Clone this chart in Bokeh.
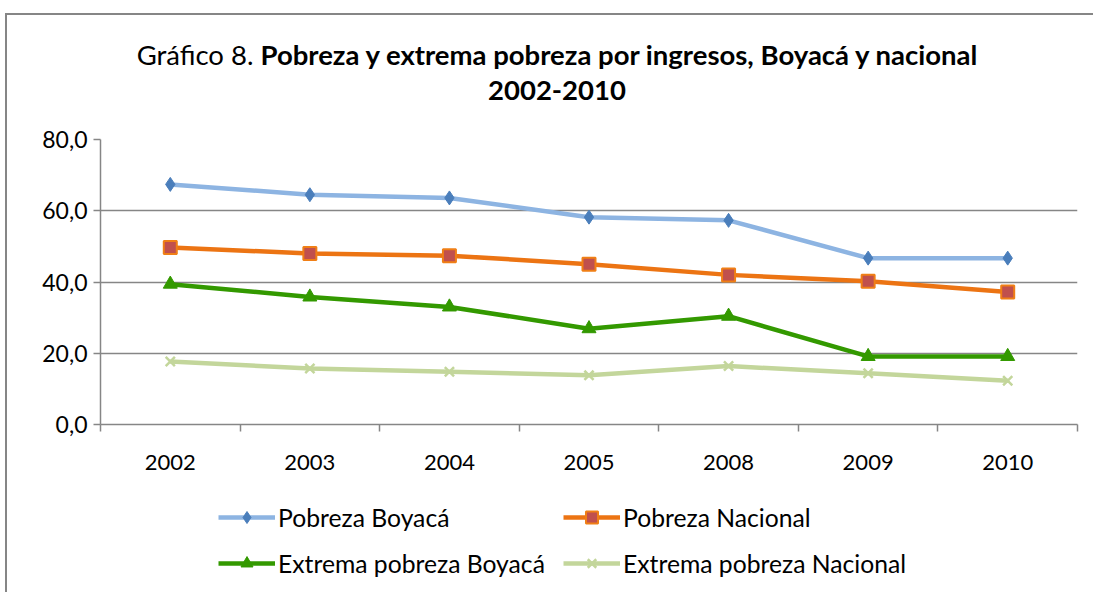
from bokeh.plotting import figure
from bokeh.layouts import column
from bokeh.models import FixedTicker, Legend, LegendItem, Range1d, Div
from bokeh.embed import file_html
from bokeh.resources import INLINE

years = ["2002", "2003", "2004", "2005", "2008", "2009", "2010"]
pobreza_boyaca = [67.4, 64.5, 63.6, 58.2, 57.3, 46.7, 46.7]
pobreza_nacional = [49.7, 48.0, 47.4, 45.0, 42.0, 40.2, 37.2]
extrema_boyaca = [39.4, 35.8, 33.0, 26.9, 30.4, 19.1, 19.1]
extrema_nacional = [17.7, 15.7, 14.8, 13.8, 16.4, 14.4, 12.3]
series_names = ["Pobreza Boyacá", "Pobreza Nacional",
                "Extrema pobreza Boyacá", "Extrema pobreza Nacional"]
y_ticks = [0, 20, 40, 60, 80]
y_tick_labels = ["0,0", "20,0", "40,0", "60,0", "80,0"]

FONT = "Lato"
GRAY = "#868686"
W = 1086

styles = [
    dict(line_color="#8DB4E2", marker="diamond", size=14,
         fill_color="#4A7EBB", mline_color="#4A7EBB", mline_width=1),
    dict(line_color="#EC7413", marker="square", size=13,
         fill_color="#C0504D", mline_color="#F07F16", mline_width=2),
    dict(line_color="#339900", marker="triangle", size=14,
         fill_color="#339900", mline_color="#339900", mline_width=1),
    dict(line_color="#C3D69B", marker="x", size=13,
         fill_color=None, mline_color="#C3D69B", mline_width=2.5),
]
series_values = [pobreza_boyaca, pobreza_nacional, extrema_boyaca, extrema_nacional]

centers = [i + 0.5 for i in range(len(years))]

# ---------------- main chart ----------------
p = figure(width=W, height=355, output_backend="svg", toolbar_location=None,
           x_range=Range1d(0, len(years)), y_range=Range1d(y_ticks[0], y_ticks[-1]),
           min_border_left=93, min_border_right=16, min_border_top=14,
           min_border_bottom=56, margin=0)
p.outline_line_color = None
p.background_fill_color = "white"
p.border_fill_color = "white"

p.xaxis.ticker = FixedTicker(ticks=centers, minor_ticks=list(range(len(years) + 1)))
p.xaxis.major_label_overrides = {c: y for c, y in zip(centers, years)}
p.xaxis.major_tick_out = 0
p.xaxis.major_tick_in = 0
p.xaxis.minor_tick_out = 7
p.xaxis.minor_tick_in = 0
p.xaxis.minor_tick_line_color = GRAY
p.xaxis.minor_tick_line_width = 1.5
p.xaxis.axis_line_color = GRAY
p.xaxis.axis_line_width = 1.5
p.xaxis.major_label_standoff = 23
p.xaxis.major_label_text_font = FONT
p.xaxis.major_label_text_font_size = "22px"
p.xaxis.major_label_text_color = "black"

p.yaxis.ticker = FixedTicker(ticks=y_ticks)
p.yaxis.major_label_overrides = {t: l for t, l in zip(y_ticks, y_tick_labels)}
p.yaxis.major_tick_out = 7
p.yaxis.major_tick_in = 0
p.yaxis.major_tick_line_color = GRAY
p.yaxis.major_tick_line_width = 1.5
p.yaxis.minor_tick_line_color = None
p.yaxis.axis_line_color = GRAY
p.yaxis.axis_line_width = 1.5
p.yaxis.major_label_standoff = 6
p.yaxis.major_label_text_font = FONT
p.yaxis.major_label_text_font_size = "23px"
p.yaxis.major_label_text_color = "black"

p.xgrid.visible = False
p.ygrid.grid_line_color = GRAY
p.ygrid.grid_line_width = 1.5

for vals, st in zip(series_values, styles):
    p.line(centers, vals, line_color=st["line_color"], line_width=4.5)
    p.scatter(centers, vals, marker=st["marker"], size=st["size"],
              fill_color=st["fill_color"], line_color=st["mline_color"],
              line_width=st["mline_width"])

# ---------------- legend strip ----------------
pl = figure(width=W, height=112, output_backend="svg", toolbar_location=None,
            x_range=Range1d(0, 1), y_range=Range1d(0, 1),
            x_axis_location=None, y_axis_location=None,
            min_border=0, margin=0)
pl.outline_line_color = None
pl.xgrid.visible = False
pl.ygrid.visible = False

items = []
for name, st in zip(series_names, styles):
    # off-range sample points: only their style is used for the legend swatch
    rl = pl.line([-5, -4], [-5, -4], line_color=st["line_color"], line_width=4.5)
    rm = pl.scatter([-5], [-5], marker=st["marker"], size=st["size"],
                    fill_color=st["fill_color"], line_color=st["mline_color"],
                    line_width=st["mline_width"])
    items.append(LegendItem(label=name, renderers=[rl, rm]))

legend = Legend(items=items, location=(118, 14), orientation="horizontal", ncols=2,
                glyph_width=57, glyph_height=30, label_height=30, label_standoff=3,
                label_width=269, spacing=16, padding=0, margin=0,
                border_line_color=None, background_fill_alpha=0,
                label_text_font=FONT, label_text_font_size="24.7px",
                label_text_color="black")
pl.add_layout(legend, "center")

# ---------------- title ----------------
title_html = (
    '<div style="font-family:Lato; font-size:27.5px; line-height:35px; '
    'text-align:center; color:black; padding-top:22px; padding-left:14px; '
    'box-sizing:border-box; width:%dpx; white-space:nowrap;">' % W
    + 'Gráfico 8. <b>Pobreza y extrema pobreza por ingresos, Boyacá y nacional</b>'
    + '<br><b>2002-2010</b></div>'
)
title_div = Div(text=title_html, width=W, height=110, margin=0)

layout = column(title_div, p, pl, spacing=0, margin=(13, 0, 0, 5),
                styles={"border-top": "2px solid #868686",
                        "border-left": "2px solid #868686"})

open("out.html", "w").write(file_html(layout, INLINE))
